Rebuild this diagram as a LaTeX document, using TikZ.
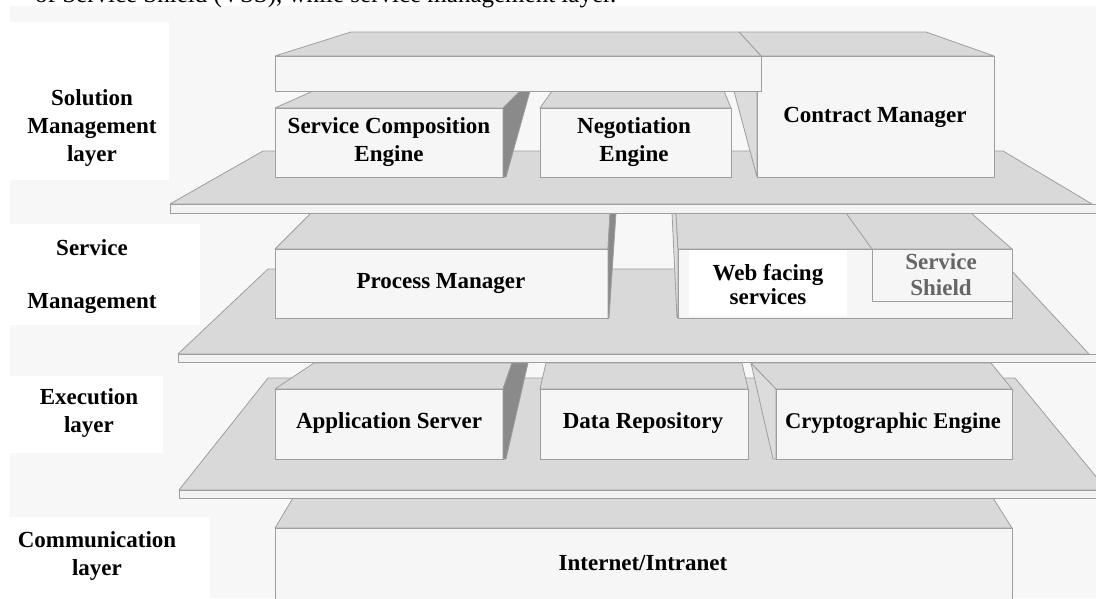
\documentclass[tikz,border=0pt]{standalone}
\usepackage{fontspec}
\setmainfont{Liberation Serif}
\definecolor{panel}{HTML}{F7F7F7}
\definecolor{topgray}{HTML}{D9D9D9}
\definecolor{facegray}{HTML}{F6F6F6}
\definecolor{stripgray}{HTML}{F3F3F3}
\definecolor{edgegray}{HTML}{9E9E9E}
\definecolor{shadegray}{HTML}{8A8A8A}
\definecolor{sidegray}{HTML}{DCDCDC}
\definecolor{shieldtext}{HTML}{666666}
\newcommand\boxfont{\fontsize{23}{28}\selectfont\bfseries}
\tikzset{
  surface/.style={draw=edgegray, line width=0.8pt, line join=round},
  topside/.style={surface, fill=topgray},
  frontside/.style={surface, fill=facegray},
  stripside/.style={surface, fill=stripgray},
  shadeside/.style={surface, fill=shadegray},
  lightside/.style={surface, fill=sidegray},
  boxtext/.style={font=\boxfont, align=center, inner sep=0pt},
  layertext/.style={font=\boxfont, align=center, inner sep=0pt},
  labelpanel/.style={fill=white},
}
\begin{document}
\begin{tikzpicture}[x=1pt,y=-1pt]
\useasboundingbox (0,0) rectangle (1096,598);
\fill[white] (0,0) rectangle (1096,598);
\fill[panel] (10,6) rectangle (1096,598);

% caption line running above the figure
\node[anchor=base west, inner sep=0pt, font=\fontsize{25}{30}\selectfont] (caption) at (35,2)
  {of Service Shield (VSS), while service management layer.};

% white panels behind the layer names
\fill[labelpanel] (10,22) rectangle (169,180);
\fill[labelpanel] (10,224) rectangle (200,325);
\fill[labelpanel] (10,376) rectangle (163,453);
\fill[labelpanel] (10,517) rectangle (210,598);

% ---------- communication layer ----------
\draw[topside] (275,528) -- (293,498) -- (993,498) -- (1012,528) -- cycle;
\draw[frontside] (275,605) -- (275,528) -- (1012,528) -- (1012,605);

% ---------- execution platform ----------
\draw[topside] (179,490) -- (268,378) -- (1015,378) -- (1107,490) -- cycle;
\draw[stripside] (179,490) rectangle (1104,498);

% application server
\draw[topside] (275,389) -- (314,363) -- (512,363) -- (503,389) -- cycle;
\draw[frontside] (275,389) rectangle (503,459);
\draw[shadeside] (503,389) -- (512,363) -- (528,363) -- (506,459) -- (503,459) -- cycle;
% data repository
\draw[topside] (540,389) -- (546,363) -- (742,363) -- (748,389) -- cycle;
\draw[frontside] (540,389) rectangle (748,459);
% cryptographic engine
\draw[lightside] (751,363) -- (776,389) -- (776,459) -- (773,459) -- cycle;
\draw[topside] (776,389) -- (751,363) -- (991,363) -- (1012,389) -- cycle;
\draw[frontside] (776,389) rectangle (1012,459);

% ---------- service management platform ----------
\draw[topside] (178,354) -- (268,269) -- (1010,269) -- (1089,354) -- cycle;
\draw[stripside] (178,354) rectangle (1104,362);

% process manager
\draw[topside] (275,249) -- (311,213) -- (610,213) -- (608,249) -- cycle;
\draw[frontside] (275,249) rectangle (608,318);
\draw[shadeside] (608,249) -- (610,213) -- (616,213) -- (609,318) -- (608,318) -- cycle;
% web facing services and service shield
\draw[lightside] (672,213) -- (676,213) -- (678,249) -- (678,318) -- (677,318) -- cycle;
\draw[topside] (678,249) -- (676,213) -- (971,213) -- (1012,249) -- cycle;
\draw[surface] (846,213) -- (872,249);
\draw[frontside] (678,249) rectangle (1012,318);
\draw[surface] (872,249) -- (872,301) -- (1012,301);
\fill[white] (689,250) rectangle (847,316);

% ---------- solution management platform ----------
\draw[topside] (170,204) -- (263,151) -- (1003,151) -- (1092,204) -- cycle;
\draw[stripside] (170,204) rectangle (1104,213);

% service composition engine
\draw[topside] (275,108) -- (313,91) -- (530,91) -- (503,108) -- cycle;
\draw[frontside] (275,108) rectangle (503,177);
\draw[shadeside] (503,108) -- (520,91) -- (530,91) -- (506,177) -- (503,177) -- cycle;
% negotiation engine
\draw[topside] (540,108) -- (552,91) -- (724,91) -- (731,108) -- cycle;
\draw[frontside] (540,108) rectangle (731,177);
% contract manager
\draw[lightside] (734,91) -- (757,91) -- (757,177) -- cycle;
\draw[topside] (739,32) -- (926,32) -- (994,56) -- (761,56) -- cycle;
\draw[frontside] (757,56) rectangle (994,177);
% shared slab over the engines
\draw[topside] (275,56) -- (351,32) -- (739,32) -- (761,56) -- cycle;
\draw[frontside] (275,56) rectangle (761,91);

% ---------- component names ----------
\node[boxtext] (sce) at (389,142) {Service Composition\\Engine};
\node[boxtext] (ne)  at (634,142) {Negotiation\\Engine};
\node[boxtext] (cm)  at (875,117) {Contract Manager};
\node[boxtext] (pm)  at (441,284) {Process Manager};
\node[boxtext] (wfs) at (768,285) {Web facing\\[-4pt]services};
\node[boxtext, text=shieldtext] (vss) at (941,275) {Service\\[-2pt]Shield};
\node[boxtext] (as)  at (389,423) {Application Server};
\node[boxtext] (dr)  at (643,423) {Data Repository};
\node[boxtext, font=\fontsize{22.5}{28}\selectfont\bfseries] (ce) at (893,423) {Cryptographic Engine};
\node[boxtext] (net) at (643,563) {Internet/Intranet};

% ---------- layer names ----------
\node[layertext] (lsol) at (92,128) {Solution\\Management\\layer};
\node[layertext] (lsvc) at (92,277) {Service\\[25pt]Management};
\node[layertext] (lexe) at (89,413) {Execution\\layer};
\node[layertext] (lcom) at (97,556) {Communication\\layer};
\end{tikzpicture}
\end{document}
